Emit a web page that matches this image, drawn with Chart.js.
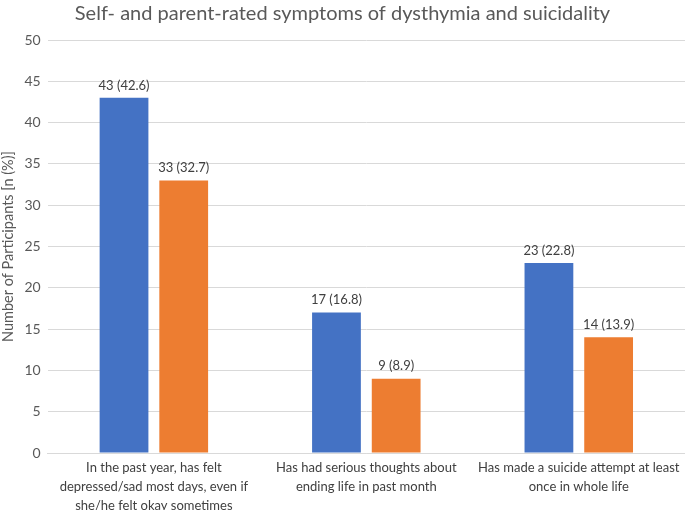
<!DOCTYPE html>
<html>
<head>
<meta charset="utf-8">
<script src="https://cdn.jsdelivr.net/npm/chart.js@4"></script>
<style>
  body { margin: 0; background: #fff; }
  canvas { display: block; }
</style>
</head>
<body>
<canvas id="chart" width="685" height="510"></canvas>
<script>
// Data
const categories = [
    ['In the past year, has felt', 'depressed/sad most days, even if', 'she/he felt okay sometimes'],
    ['Has had serious thoughts about', 'ending life in past month'],
    ['Has made a suicide attempt at least', 'once in whole life']
];
const selfCounts = [43, 17, 23];
const selfPercents = [42.6, 16.8, 22.8];
const parentCounts = [33, 9, 14];
const parentPercents = [32.7, 8.9, 13.9];
const yTicks = [0, 5, 10, 15, 20, 25, 30, 35, 40, 45, 50];

const fontFamily = 'Lato, "Open Sans", sans-serif';

// Draws "n (%)" above each bar
const barLabels = {
    id: 'barLabels',
    afterDatasetsDraw(chart) {
        const ctx = chart.ctx;
        ctx.save();
        ctx.font = '13px ' + fontFamily;
        ctx.fillStyle = '#404040';
        ctx.textAlign = 'center';
        ctx.textBaseline = 'bottom';
        chart.data.datasets.forEach((ds, i) => {
            chart.getDatasetMeta(i).data.forEach((bar, j) => {
                ctx.fillText(ds.data[j] + ' (' + ds.percents[j].toFixed(1) + ')', bar.x, bar.y - 6);
            });
        });
        ctx.restore();
    }
};

const ctx = document.getElementById('chart').getContext('2d');
new Chart(ctx, {
    type: 'bar',
    data: {
        labels: categories,
        datasets: [
            {
                label: 'Self-rated',
                data: selfCounts,
                percents: selfPercents,
                backgroundColor: '#4472c4'
            },
            {
                label: 'Parent-rated',
                data: parentCounts,
                percents: parentPercents,
                backgroundColor: '#ed7d31'
            }
        ]
    },
    options: {
        responsive: false,
        animation: false,
        categoryPercentage: 0.562,
        barPercentage: 0.817,
        layout: { padding: { left: 0, right: 0, top: 0, bottom: 0 } },
        plugins: {
            legend: { display: false },
            tooltip: { enabled: false },
            title: {
                display: true,
                text: 'Self- and parent-rated symptoms of dysthymia and suicidality',
                color: '#595959',
                font: { family: fontFamily, size: 20, weight: 'normal' },
                padding: { top: 2, bottom: 14 }
            }
        },
        scales: {
            x: {
                grid: { display: false, drawTicks: false },
                border: { color: '#d9d9d9' },
                afterFit(scale) {
                    scale.height = 57;
                },
                ticks: {
                    color: '#404040',
                    font: { family: fontFamily, size: 13, lineHeight: 1.46 },
                    maxRotation: 0,
                    autoSkip: false,
                    padding: 5
                }
            },
            y: {
                min: 0,
                max: 50,
                afterBuildTicks(axis) {
                    axis.ticks = yTicks.map(v => ({ value: v }));
                },
                grid: { color: '#d9d9d9', drawTicks: false },
                border: { display: false },
                ticks: {
                    color: '#595959',
                    font: { family: fontFamily, size: 14 },
                    padding: 7
                },
                title: {
                    display: true,
                    text: 'Number of Participants [n (%)]',
                    color: '#595959',
                    font: { family: fontFamily, size: 14.5 },
                    padding: { top: 0, bottom: 0 }
                }
            }
        }
    },
    plugins: [barLabels]
});
</script>
</body>
</html>
